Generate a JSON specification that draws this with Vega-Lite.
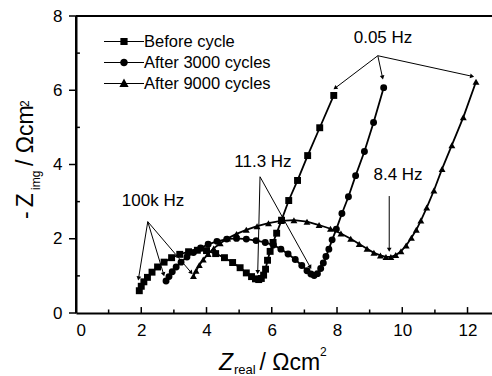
{
  "$schema": "https://vega.github.io/schema/vega-lite/v6.json",
  "autosize": {"type": "none"},
  "padding": {"left": 76, "top": 16, "right": 0, "bottom": 63},
  "width": 416,
  "height": 297,
  "background": "white",
  "config": {
    "view": {"stroke": null},
    "font": "Liberation Sans",
    "text": {"font": "Liberation Sans", "color": "black"},
    "axis": {
      "domain": true, "ticks": true, "tickOpacity": 0, "grid": false,
      "domainColor": "black", "domainWidth": 2,
      "tickColor": "black", "tickWidth": 1.5,
      "labelFont": "Liberation Sans", "labelFontSize": 17, "labelColor": "black"
    },
    "axisX": {"tickSize": 5, "labelPadding": 4},
    "axisY": {"tickSize": 7, "labelPadding": 7}
  },
  "datasets": {
    "single": [{}],
    "xMajor": [{"at": 2}, {"at": 4}, {"at": 6}, {"at": 8}, {"at": 10}, {"at": 12}],
    "xMinor": [{"at": 1}, {"at": 3}, {"at": 5}, {"at": 7}, {"at": 9}, {"at": 11}],
    "yMajor": [{"at": 0}, {"at": 2}, {"at": 4}, {"at": 6}, {"at": 8}],
    "yMinor": [{"at": 1}, {"at": 3}, {"at": 5}, {"at": 7}],
    "nyquist": [
      {"series": "Before cycle", "n": 1, "zr": 1.94, "zi": 0.60},
      {"series": "Before cycle", "n": 2, "zr": 2.00, "zi": 0.72},
      {"series": "Before cycle", "n": 3, "zr": 2.08, "zi": 0.84},
      {"series": "Before cycle", "n": 4, "zr": 2.19, "zi": 0.96},
      {"series": "Before cycle", "n": 5, "zr": 2.33, "zi": 1.10},
      {"series": "Before cycle", "n": 6, "zr": 2.50, "zi": 1.24},
      {"series": "Before cycle", "n": 7, "zr": 2.70, "zi": 1.37},
      {"series": "Before cycle", "n": 8, "zr": 2.93, "zi": 1.49},
      {"series": "Before cycle", "n": 9, "zr": 3.18, "zi": 1.58},
      {"series": "Before cycle", "n": 10, "zr": 3.45, "zi": 1.65},
      {"series": "Before cycle", "n": 11, "zr": 3.72, "zi": 1.69},
      {"series": "Before cycle", "n": 12, "zr": 4.00, "zi": 1.68},
      {"series": "Before cycle", "n": 13, "zr": 4.28, "zi": 1.60},
      {"series": "Before cycle", "n": 14, "zr": 4.55, "zi": 1.49},
      {"series": "Before cycle", "n": 15, "zr": 4.80, "zi": 1.36},
      {"series": "Before cycle", "n": 16, "zr": 5.03, "zi": 1.22},
      {"series": "Before cycle", "n": 17, "zr": 5.22, "zi": 1.08},
      {"series": "Before cycle", "n": 18, "zr": 5.38, "zi": 0.98},
      {"series": "Before cycle", "n": 19, "zr": 5.50, "zi": 0.92},
      {"series": "Before cycle", "n": 20, "zr": 5.60, "zi": 0.90},
      {"series": "Before cycle", "n": 21, "zr": 5.68, "zi": 0.93},
      {"series": "Before cycle", "n": 22, "zr": 5.75, "zi": 1.02},
      {"series": "Before cycle", "n": 23, "zr": 5.81, "zi": 1.18},
      {"series": "Before cycle", "n": 24, "zr": 5.87, "zi": 1.42},
      {"series": "Before cycle", "n": 25, "zr": 5.95, "zi": 1.66},
      {"series": "Before cycle", "n": 26, "zr": 6.04, "zi": 1.90},
      {"series": "Before cycle", "n": 27, "zr": 6.15, "zi": 2.15},
      {"series": "Before cycle", "n": 28, "zr": 6.30, "zi": 2.50},
      {"series": "Before cycle", "n": 29, "zr": 6.52, "zi": 3.03},
      {"series": "Before cycle", "n": 30, "zr": 6.79, "zi": 3.57},
      {"series": "Before cycle", "n": 31, "zr": 7.10, "zi": 4.24},
      {"series": "Before cycle", "n": 32, "zr": 7.47, "zi": 4.99},
      {"series": "Before cycle", "n": 33, "zr": 7.90, "zi": 5.86},
      {"series": "After 3000 cycles", "n": 1, "zr": 2.76, "zi": 0.86},
      {"series": "After 3000 cycles", "n": 2, "zr": 2.85, "zi": 0.98},
      {"series": "After 3000 cycles", "n": 3, "zr": 2.95, "zi": 1.11},
      {"series": "After 3000 cycles", "n": 4, "zr": 3.07, "zi": 1.24},
      {"series": "After 3000 cycles", "n": 5, "zr": 3.22, "zi": 1.37},
      {"series": "After 3000 cycles", "n": 6, "zr": 3.40, "zi": 1.51},
      {"series": "After 3000 cycles", "n": 7, "zr": 3.60, "zi": 1.63},
      {"series": "After 3000 cycles", "n": 8, "zr": 3.82, "zi": 1.75},
      {"series": "After 3000 cycles", "n": 9, "zr": 4.05, "zi": 1.85},
      {"series": "After 3000 cycles", "n": 10, "zr": 4.32, "zi": 1.93},
      {"series": "After 3000 cycles", "n": 11, "zr": 4.62, "zi": 1.99},
      {"series": "After 3000 cycles", "n": 12, "zr": 4.92, "zi": 2.01},
      {"series": "After 3000 cycles", "n": 13, "zr": 5.22, "zi": 1.99},
      {"series": "After 3000 cycles", "n": 14, "zr": 5.52, "zi": 1.95},
      {"series": "After 3000 cycles", "n": 15, "zr": 5.80, "zi": 1.90},
      {"series": "After 3000 cycles", "n": 16, "zr": 6.05, "zi": 1.83},
      {"series": "After 3000 cycles", "n": 17, "zr": 6.28, "zi": 1.72},
      {"series": "After 3000 cycles", "n": 18, "zr": 6.50, "zi": 1.59},
      {"series": "After 3000 cycles", "n": 19, "zr": 6.72, "zi": 1.44},
      {"series": "After 3000 cycles", "n": 20, "zr": 6.92, "zi": 1.28},
      {"series": "After 3000 cycles", "n": 21, "zr": 7.08, "zi": 1.14},
      {"series": "After 3000 cycles", "n": 22, "zr": 7.20, "zi": 1.05},
      {"series": "After 3000 cycles", "n": 23, "zr": 7.30, "zi": 1.01},
      {"series": "After 3000 cycles", "n": 24, "zr": 7.40, "zi": 1.06},
      {"series": "After 3000 cycles", "n": 25, "zr": 7.50, "zi": 1.20},
      {"series": "After 3000 cycles", "n": 26, "zr": 7.58, "zi": 1.35},
      {"series": "After 3000 cycles", "n": 27, "zr": 7.66, "zi": 1.52},
      {"series": "After 3000 cycles", "n": 28, "zr": 7.75, "zi": 1.72},
      {"series": "After 3000 cycles", "n": 29, "zr": 7.85, "zi": 1.97},
      {"series": "After 3000 cycles", "n": 30, "zr": 7.98, "zi": 2.26},
      {"series": "After 3000 cycles", "n": 31, "zr": 8.15, "zi": 2.68},
      {"series": "After 3000 cycles", "n": 32, "zr": 8.35, "zi": 3.13},
      {"series": "After 3000 cycles", "n": 33, "zr": 8.57, "zi": 3.70},
      {"series": "After 3000 cycles", "n": 34, "zr": 8.84, "zi": 4.35},
      {"series": "After 3000 cycles", "n": 35, "zr": 9.12, "zi": 5.13},
      {"series": "After 3000 cycles", "n": 36, "zr": 9.43, "zi": 6.07},
      {"series": "After 9000 cycles", "n": 1, "zr": 3.60, "zi": 1.00},
      {"series": "After 9000 cycles", "n": 2, "zr": 3.68, "zi": 1.14},
      {"series": "After 9000 cycles", "n": 3, "zr": 3.78, "zi": 1.29},
      {"series": "After 9000 cycles", "n": 4, "zr": 3.90, "zi": 1.44},
      {"series": "After 9000 cycles", "n": 5, "zr": 4.05, "zi": 1.59},
      {"series": "After 9000 cycles", "n": 6, "zr": 4.22, "zi": 1.74},
      {"series": "After 9000 cycles", "n": 7, "zr": 4.42, "zi": 1.88},
      {"series": "After 9000 cycles", "n": 8, "zr": 4.65, "zi": 2.01},
      {"series": "After 9000 cycles", "n": 9, "zr": 4.92, "zi": 2.13},
      {"series": "After 9000 cycles", "n": 10, "zr": 5.22, "zi": 2.24},
      {"series": "After 9000 cycles", "n": 11, "zr": 5.55, "zi": 2.34},
      {"series": "After 9000 cycles", "n": 12, "zr": 5.90, "zi": 2.42},
      {"series": "After 9000 cycles", "n": 13, "zr": 6.28, "zi": 2.48},
      {"series": "After 9000 cycles", "n": 14, "zr": 6.68, "zi": 2.50},
      {"series": "After 9000 cycles", "n": 15, "zr": 7.08, "zi": 2.46},
      {"series": "After 9000 cycles", "n": 16, "zr": 7.45, "zi": 2.37},
      {"series": "After 9000 cycles", "n": 17, "zr": 7.80, "zi": 2.27},
      {"series": "After 9000 cycles", "n": 18, "zr": 8.12, "zi": 2.14},
      {"series": "After 9000 cycles", "n": 19, "zr": 8.42, "zi": 2.00},
      {"series": "After 9000 cycles", "n": 20, "zr": 8.68, "zi": 1.86},
      {"series": "After 9000 cycles", "n": 21, "zr": 8.92, "zi": 1.73},
      {"series": "After 9000 cycles", "n": 22, "zr": 9.13, "zi": 1.62},
      {"series": "After 9000 cycles", "n": 23, "zr": 9.33, "zi": 1.55},
      {"series": "After 9000 cycles", "n": 24, "zr": 9.50, "zi": 1.51},
      {"series": "After 9000 cycles", "n": 25, "zr": 9.65, "zi": 1.51},
      {"series": "After 9000 cycles", "n": 26, "zr": 9.80, "zi": 1.56},
      {"series": "After 9000 cycles", "n": 27, "zr": 9.96, "zi": 1.66},
      {"series": "After 9000 cycles", "n": 28, "zr": 10.12, "zi": 1.82},
      {"series": "After 9000 cycles", "n": 29, "zr": 10.28, "zi": 2.03},
      {"series": "After 9000 cycles", "n": 30, "zr": 10.43, "zi": 2.24},
      {"series": "After 9000 cycles", "n": 31, "zr": 10.57, "zi": 2.49},
      {"series": "After 9000 cycles", "n": 32, "zr": 10.75, "zi": 2.84},
      {"series": "After 9000 cycles", "n": 33, "zr": 10.97, "zi": 3.30},
      {"series": "After 9000 cycles", "n": 34, "zr": 11.22, "zi": 3.88},
      {"series": "After 9000 cycles", "n": 35, "zr": 11.52, "zi": 4.52},
      {"series": "After 9000 cycles", "n": 36, "zr": 11.87, "zi": 5.27},
      {"series": "After 9000 cycles", "n": 37, "zr": 12.26, "zi": 6.23}
    ],
    "arrows": [
      {"label": "100k Hz", "fromX": 2.2, "fromY": 2.46, "toX": 1.92, "toY": 0.95},
      {"label": "100k Hz", "fromX": 2.2, "fromY": 2.46, "toX": 2.68, "toY": 1.06},
      {"label": "100k Hz", "fromX": 2.2, "fromY": 2.46, "toX": 3.52, "toY": 1.1},
      {"label": "11.3 Hz", "fromX": 5.64, "fromY": 3.67, "toX": 5.57, "toY": 1.12},
      {"label": "11.3 Hz", "fromX": 5.64, "fromY": 3.67, "toX": 7.17, "toY": 1.25},
      {"label": "8.4 Hz", "fromX": 9.6, "fromY": 3.15, "toX": 9.6, "toY": 1.72},
      {"label": "0.05 Hz", "fromX": 9.25, "fromY": 6.93, "toX": 7.96, "toY": 6.07},
      {"label": "0.05 Hz", "fromX": 9.25, "fromY": 6.93, "toX": 9.39, "toY": 6.36},
      {"label": "0.05 Hz", "fromX": 9.25, "fromY": 6.93, "toX": 12.12, "toY": 6.38}
    ]
  },
  "layer": [
    {
      "data": {"name": "nyquist"},
      "mark": {"type": "line", "color": "black", "strokeWidth": 1.8},
      "encoding": {
        "x": {
          "field": "zr", "type": "quantitative",
          "scale": {"domain": [0, 12.75], "nice": false, "zero": false},
          "axis": {"title": null, "values": [0, 2, 4, 6, 8, 10, 12]}
        },
        "y": {
          "field": "zi", "type": "quantitative",
          "scale": {"domain": [0, 8], "nice": false, "zero": false},
          "axis": {"title": null, "values": [0, 2, 4, 6, 8]}
        },
        "detail": {"field": "series"},
        "order": {"field": "n", "type": "quantitative"}
      }
    },
    {
      "data": {"name": "single"},
      "mark": {"type": "rule", "color": "black", "strokeWidth": 2},
      "encoding": {"y": {"datum": 8, "type": "quantitative"}}
    },
    {
      "data": {"name": "single"},
      "mark": {"type": "rule", "color": "black", "strokeWidth": 2},
      "encoding": {"x": {"datum": 0, "type": "quantitative"}}
    },
    {
      "data": {"name": "xMajor"},
      "mark": {"type": "rule", "color": "black", "strokeWidth": 1.5},
      "encoding": {
        "x": {"field": "at", "type": "quantitative"},
        "y": {"datum": 0, "type": "quantitative"},
        "y2": {"datum": 0.16}
      }
    },
    {
      "data": {"name": "xMinor"},
      "mark": {"type": "rule", "color": "black", "strokeWidth": 1.5},
      "encoding": {
        "x": {"field": "at", "type": "quantitative"},
        "y": {"datum": 0, "type": "quantitative"},
        "y2": {"datum": 0.095}
      }
    },
    {
      "data": {"name": "yMajor"},
      "mark": {"type": "rule", "color": "black", "strokeWidth": 1.5},
      "encoding": {
        "y": {"field": "at", "type": "quantitative"},
        "x": {"datum": -0.215, "type": "quantitative"},
        "x2": {"datum": 0}
      }
    },
    {
      "data": {"name": "yMinor"},
      "mark": {"type": "rule", "color": "black", "strokeWidth": 1.5},
      "encoding": {
        "y": {"field": "at", "type": "quantitative"},
        "x": {"datum": 0, "type": "quantitative"},
        "x2": {"datum": 0.12}
      }
    },
    {
      "data": {"name": "nyquist"},
      "mark": {"type": "point", "filled": true, "color": "black", "opacity": 1, "size": 48},
      "encoding": {
        "x": {"field": "zr", "type": "quantitative"},
        "y": {"field": "zi", "type": "quantitative"},
        "shape": {
          "field": "series", "type": "nominal",
          "scale": {
            "domain": ["Before cycle", "After 3000 cycles", "After 9000 cycles"],
            "range": ["square", "circle", "triangle-up"]
          },
          "legend": null
        }
      }
    },
    {
      "data": {"name": "nyquist"},
      "transform": [{"filter": "false"}],
      "mark": {"type": "point", "filled": true, "color": "black", "opacity": 1},
      "encoding": {
        "x": {"field": "zr", "type": "quantitative"},
        "y": {"field": "zi", "type": "quantitative"},
        "shape": {
          "field": "series", "type": "nominal",
          "scale": {
            "domain": ["Before cycle", "After 3000 cycles", "After 9000 cycles"],
            "range": [
              "M-2,-0.06H2V0.06H-2ZM-0.36,-0.36H0.36V0.36H-0.36Z",
              "M-2,-0.06H2V0.06H-2ZM-0.38,0A0.38,0.38,0,1,1,0.38,0A0.38,0.38,0,1,1,-0.38,0Z",
              "M-2,-0.06H2V0.06H-2ZM0,-0.5L0.46,0.34L-0.46,0.34Z"
            ]
          },
          "legend": {
            "title": null,
            "orient": "none",
            "legendX": 38,
            "legendY": 15.5,
            "padding": 0,
            "symbolSize": 400,
            "symbolOpacity": 1,
            "symbolFillColor": "black",
            "symbolStrokeWidth": 0,
            "labelFont": "Liberation Sans",
            "labelFontSize": 16.5,
            "labelColor": "black",
            "labelOffset": 10,
            "rowPadding": 2
          }
        }
      }
    },
    {
      "data": {"name": "arrows"},
      "mark": {"type": "rule", "color": "black", "strokeWidth": 1},
      "encoding": {
        "x": {"field": "fromX", "type": "quantitative"},
        "y": {"field": "fromY", "type": "quantitative"},
        "x2": {"field": "toX"},
        "y2": {"field": "toY"}
      }
    },
    {
      "data": {"name": "arrows"},
      "transform": [
        {"calculate": "atan2((datum.toX - datum.fromX) * 32.63, (datum.toY - datum.fromY) * 37.125) * 180 / PI", "as": "heading"}
      ],
      "mark": {"type": "point", "shape": "triangle", "filled": true, "color": "black", "opacity": 1, "size": 22},
      "encoding": {
        "x": {"field": "toX", "type": "quantitative"},
        "y": {"field": "toY", "type": "quantitative"},
        "angle": {"field": "heading", "type": "quantitative", "scale": null}
      }
    },
    {
      "data": {"name": "single"},
      "mark": {"type": "text", "text": "100k Hz", "fontSize": 17, "align": "center", "baseline": "middle"},
      "encoding": {"x": {"datum": 2.36}, "y": {"datum": 3.02}}
    },
    {
      "data": {"name": "single"},
      "mark": {"type": "text", "text": "11.3 Hz", "fontSize": 17, "align": "center", "baseline": "middle"},
      "encoding": {"x": {"datum": 5.73}, "y": {"datum": 4.08}}
    },
    {
      "data": {"name": "single"},
      "mark": {"type": "text", "text": "8.4 Hz", "fontSize": 17, "align": "center", "baseline": "middle"},
      "encoding": {"x": {"datum": 9.87}, "y": {"datum": 3.72}}
    },
    {
      "data": {"name": "single"},
      "mark": {"type": "text", "text": "0.05 Hz", "fontSize": 17, "align": "center", "baseline": "middle"},
      "encoding": {"x": {"datum": 9.41}, "y": {"datum": 7.4}}
    },
    {
      "data": {"name": "single"},
      "mark": {"type": "text", "text": "Z", "fontSize": 23, "fontStyle": "italic", "align": "left", "baseline": "alphabetic"},
      "encoding": {"x": {"datum": 4.383}, "y": {"datum": -1.535}}
    },
    {
      "data": {"name": "single"},
      "mark": {"type": "text", "text": "real", "fontSize": 13, "align": "left", "baseline": "alphabetic"},
      "encoding": {"x": {"datum": 4.842}, "y": {"datum": -1.64}}
    },
    {
      "data": {"name": "single"},
      "mark": {"type": "text", "text": "/ Ωcm", "fontSize": 23, "align": "left", "baseline": "alphabetic"},
      "encoding": {"x": {"datum": 5.624}, "y": {"datum": -1.535}}
    },
    {
      "data": {"name": "single"},
      "mark": {"type": "text", "text": "2", "fontSize": 12, "align": "left", "baseline": "alphabetic"},
      "encoding": {"x": {"datum": 7.478}, "y": {"datum": -1.145}}
    },
    {
      "data": {"name": "single"},
      "mark": {"type": "text", "text": "-", "fontSize": 23, "angle": 270, "align": "left", "baseline": "alphabetic"},
      "encoding": {"x": {"datum": -1.318}, "y": {"datum": 2.53}}
    },
    {
      "data": {"name": "single"},
      "mark": {"type": "text", "text": "Z", "fontSize": 23, "angle": 270, "align": "left", "baseline": "alphabetic"},
      "encoding": {"x": {"datum": -1.318}, "y": {"datum": 2.85}}
    },
    {
      "data": {"name": "single"},
      "mark": {"type": "text", "text": "img", "fontSize": 12, "angle": 270, "align": "left", "baseline": "alphabetic"},
      "encoding": {"x": {"datum": -1.103}, "y": {"datum": 3.313}}
    },
    {
      "data": {"name": "single"},
      "mark": {"type": "text", "text": "/ Ωcm", "fontSize": 23, "angle": 270, "align": "left", "baseline": "alphabetic"},
      "encoding": {"x": {"datum": -1.318}, "y": {"datum": 3.96}}
    },
    {
      "data": {"name": "single"},
      "mark": {"type": "text", "text": "2", "fontSize": 12, "angle": 270, "align": "left", "baseline": "alphabetic"},
      "encoding": {"x": {"datum": -1.453}, "y": {"datum": 5.549}}
    }
  ],
  "resolve": {"scale": {"shape": "independent"}}
}
